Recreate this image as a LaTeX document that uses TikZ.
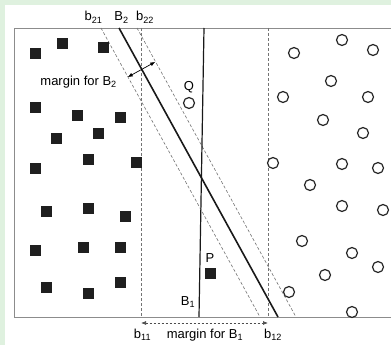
\documentclass[tikz,border=0pt]{standalone}
\usepackage{fontspec}
\setmainfont{Liberation Sans}
\usetikzlibrary{arrows.meta}

\begin{document}
\begin{tikzpicture}[
    x=1pt, y=-1pt,
    % Styles
    sample/.style={
        rectangle, fill=black!88, minimum size=11pt, inner sep=0pt
    },
    other/.style={
        circle, draw=black!85, line width=1.2pt, fill=white,
        minimum size=11pt, inner sep=0pt
    },
    boundary/.style={
        line width=#1, black!90
    },
    boundary/.default=1.2pt,
    margin/.style={
        black!55, line width=0.6pt, dash pattern=on 3pt off 2pt
    },
    span/.style={
        {Latex[length=5pt,width=4pt]}-{Latex[length=5pt,width=4pt]}, line width=0.7pt, #1
    },
    span/.default=black,
    tag/.style={
        font=\fontsize{13}{15}\selectfont, inner sep=0pt, anchor=base
    }
]

% ── Frame ───────────────────────────────────────────────────────────────────
\fill[green!40!gray!18] (0, 0) rectangle (391, 345);
\fill[white] (5, 5) rectangle (391, 345);
\useasboundingbox (0, 0) rectangle (391, 345);
\draw[black!45, line width=0.9pt] (391, 28) -- (14, 28) -- (14, 317) -- (391, 317);

% ── Margins of B1 (vertical) ────────────────────────────────────────────────
\coordinate (b11top) at (141, 28);
\coordinate (b11bot) at (141, 317);
\coordinate (b12top) at (268, 28);
\coordinate (b12bot) at (268, 317);
\draw[margin] (b11top) -- (b11bot);
\draw[margin] (b12top) -- (b12bot);

% ── Margins of B2 (slanted) ─────────────────────────────────────────────────
\coordinate (b21top) at (101, 28);
\coordinate (b21bot) at (260, 317);
\coordinate (b22top) at (137, 28);
\coordinate (b22bot) at (296, 317);
\draw[margin] (b21top) -- (b21bot);
\draw[margin] (b22top) -- (b22bot);

% ── Boundaries ──────────────────────────────────────────────────────────────
\coordinate (B1top) at (204, 28);
\coordinate (B1bot) at (199, 317);
\coordinate (B2top) at (119, 28);
\coordinate (B2bot) at (278, 317);
\draw[boundary] (B1top) -- (B1bot);
\draw[boundary=1.6pt] (B2top) -- (B2bot);

% ── Class 1: squares ────────────────────────────────────────────────────────
\foreach \x/\y [count=\i] in {35/54, 62/44, 103/48, 35/107, 77/115, 120/117,
    56/138, 98/133, 88/159, 35/168, 136/162, 46/211, 88/208, 125/216,
    35/250, 83/247, 120/247, 46/287, 88/293, 120/282}
    \node[sample] (sq\i) at (\x, \y) {};
\node[sample] (P) at (210.5, 273) {};

% ── Class 2: circles ────────────────────────────────────────────────────────
\foreach \x/\y [count=\i] in {294/53, 342/40, 373/50, 331/81, 283/97, 368/97,
    323/120, 363/133, 273/163, 342/164, 378/168, 310/185, 342/206, 383/210,
    302/241, 352/253, 378/267, 325/275, 289/292, 352/312}
    \node[other] (ci\i) at (\x, \y) {};
\node[other] (Q) at (189, 103) {};

% ── Margin arrows ───────────────────────────────────────────────────────────
\coordinate (m2a) at (127.7, 77.1);
\coordinate (m2b) at (155.3, 61.9);
\draw[span] (m2a) -- (m2b);
\coordinate (m1a) at (141, 323);
\coordinate (m1b) at (268, 323);
\draw[span=black!70, dash pattern=on 2.5pt off 1.5pt] (m1a) -- (m1b);

% ── Labels ──────────────────────────────────────────────────────────────────
\node[tag] at (93.5, 21) {b\textsubscript{21}};
\node[tag] at (121.5, 21) {B\textsubscript{2}};
\node[tag] at (145, 21) {b\textsubscript{22}};
\node[tag, anchor=base east] at (117, 85) {margin for B\textsubscript{2}};
\node[tag] at (189, 91) {Q};
\node[tag] at (210, 262) {P};
\node[tag] at (188, 305) {B\textsubscript{1}};
\node[tag] at (142.5, 338) {b\textsubscript{11}};
\node[tag] at (205, 338) {margin for B\textsubscript{1}};
\node[tag] at (273, 338) {b\textsubscript{12}};

\end{tikzpicture}
\end{document}
